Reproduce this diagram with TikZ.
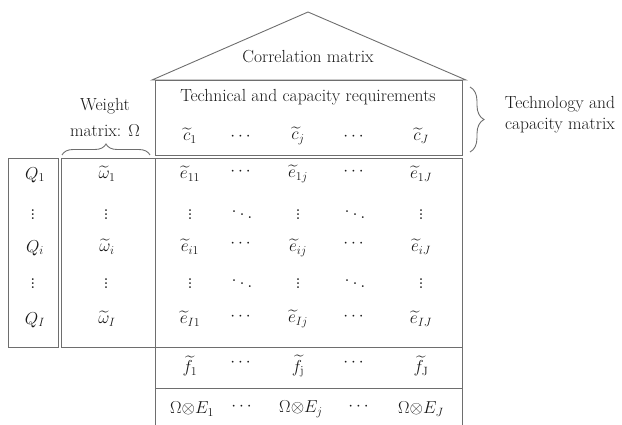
\documentclass[tikz,border=0pt]{standalone}
\usepackage{amsmath}
\usetikzlibrary{decorations.pathreplacing}
\definecolor{linegray}{RGB}{110,110,110}
\definecolor{textgray}{RGB}{25,25,25}
\tikzset{
  box/.style={draw=linegray, line width=0.9pt},
  lbl/.style={text=textgray, font=\fontsize{17.5}{21}\selectfont, inner sep=0pt},
  dts/.style={lbl, font=\fontsize{22}{26}\selectfont},
  brc/.style={draw=linegray, line width=0.9pt, decorate, decoration={brace, amplitude=#1}},
}
\begin{document}
\begin{tikzpicture}[x=1pt,y=-1pt]
            \useasboundingbox (0,0) rectangle (622,425);

            % roof and boxes
            \draw [box] (152,80) -- (308,12) -- (466,80) -- cycle;
            \draw [box] (155,80) rectangle (462,155);
            \draw [box] (155,158) rectangle (462,347);
            \draw [box] (155,347) rectangle (462,388);
            \draw [box] (155,388) -- (155,430);
            \draw [box] (462,388) -- (462,430);
            \draw [box] (8,158) rectangle (58,347);
            \draw [box] (61,158) rectangle (155,347);

            \node [lbl] (corr) at (308,57) {Correlation matrix};
            \node [lbl] (techreq) at (308,97) {Technical and capacity requirements};

            \node [lbl] (c1) at (190,136) {$\widetilde{c}_1$};
            \node [lbl] (cd1) at (242,137) {$\cdots$};
            \node [lbl] (cj) at (298,136) {$\widetilde{c}_j$};
            \node [lbl] (cd2) at (355,137) {$\cdots$};
            \node [lbl] (cJ) at (421,136) {$\widetilde{c}_J$};

            \node [lbl] (e11) at (190,174) {$\widetilde{e}_{11}$};
            \node [lbl] (e1d1) at (242,172) {$\cdots$};
            \node [lbl] (e1j) at (298,174) {$\widetilde{e}_{1j}$};
            \node [lbl] (e1d2) at (355,172) {$\cdots$};
            \node [lbl] (e1J) at (421,174) {$\widetilde{e}_{1J}$};

            \node [dts] (v11) at (190,212) {$\vdots$};
            \node [dts] (dd11) at (242,212) {$\ddots$};
            \node [dts] (v12) at (298,212) {$\vdots$};
            \node [dts] (dd12) at (355,212) {$\ddots$};
            \node [dts] (v13) at (421,212) {$\vdots$};

            \node [lbl] (ei1) at (190,247) {$\widetilde{e}_{i1}$};
            \node [lbl] (eid1) at (242,244) {$\cdots$};
            \node [lbl] (eij) at (298,248) {$\widetilde{e}_{ij}$};
            \node [lbl] (eid2) at (355,244) {$\cdots$};
            \node [lbl] (eiJ) at (421,247) {$\widetilde{e}_{iJ}$};

            \node [dts] (v21) at (190,281) {$\vdots$};
            \node [dts] (dd21) at (242,281) {$\ddots$};
            \node [dts] (v22) at (298,281) {$\vdots$};
            \node [dts] (dd22) at (355,281) {$\ddots$};
            \node [dts] (v23) at (421,281) {$\vdots$};

            \node [lbl] (eI1) at (190,319) {$\widetilde{e}_{I1}$};
            \node [lbl] (eId1) at (242,317) {$\cdots$};
            \node [lbl] (eIj) at (298,319) {$\widetilde{e}_{Ij}$};
            \node [lbl] (eId2) at (355,317) {$\cdots$};
            \node [lbl] (eIJ) at (421,319) {$\widetilde{e}_{IJ}$};

            \node [lbl] (f1) at (190,366) {$\widetilde{f}_1$};
            \node [lbl] (fd1) at (242,363) {$\cdots$};
            \node [lbl] (fj) at (298,366) {$\widetilde{f}_{\mathrm{j}}$};
            \node [lbl] (fd2) at (355,363) {$\cdots$};
            \node [lbl] (fJ) at (421,366) {$\widetilde{f}_{\mathrm{J}}$};

            \node [lbl] (oe1) at (192,409) {$\Omega{\otimes}E_1$};
            \node [lbl] (oed1) at (243,407) {$\cdots$};
            \node [lbl] (oej) at (301,409) {$\Omega{\otimes}E_j$};
            \node [lbl] (oed2) at (360,407) {$\cdots$};
            \node [lbl] (oeJ) at (421,409) {$\Omega{\otimes}E_J$};

            \node [lbl] (q1) at (35,175) {$Q_1$};
            \node [dts] (qv1) at (33,212) {$\vdots$};
            \node [lbl] (qi) at (35,248) {$Q_i$};
            \node [dts] (qv2) at (33,281) {$\vdots$};
            \node [lbl] (qI) at (35,320) {$Q_I$};

            \node [lbl] (w1) at (107,174) {$\widetilde{\omega}_1$};
            \node [dts] (wv1) at (106,212) {$\vdots$};
            \node [lbl] (wi) at (107,247) {$\widetilde{\omega}_i$};
            \node [dts] (wv2) at (106,281) {$\vdots$};
            \node [lbl] (wI) at (107,319) {$\widetilde{\omega}_I$};

            % braces
            \draw [brc=11] (62,155) -- (150,155);
            \node [lbl] (weight) at (105,106) {Weight};
            \node [lbl] (wmat) at (105,131) {matrix: $\Omega$};

            \draw [brc=14] (470,87) -- (470,152);
            \node [lbl, align=center] (techmat) at (560,115) {Technology and\\capacity matrix};
        \end{tikzpicture}
\end{document}
